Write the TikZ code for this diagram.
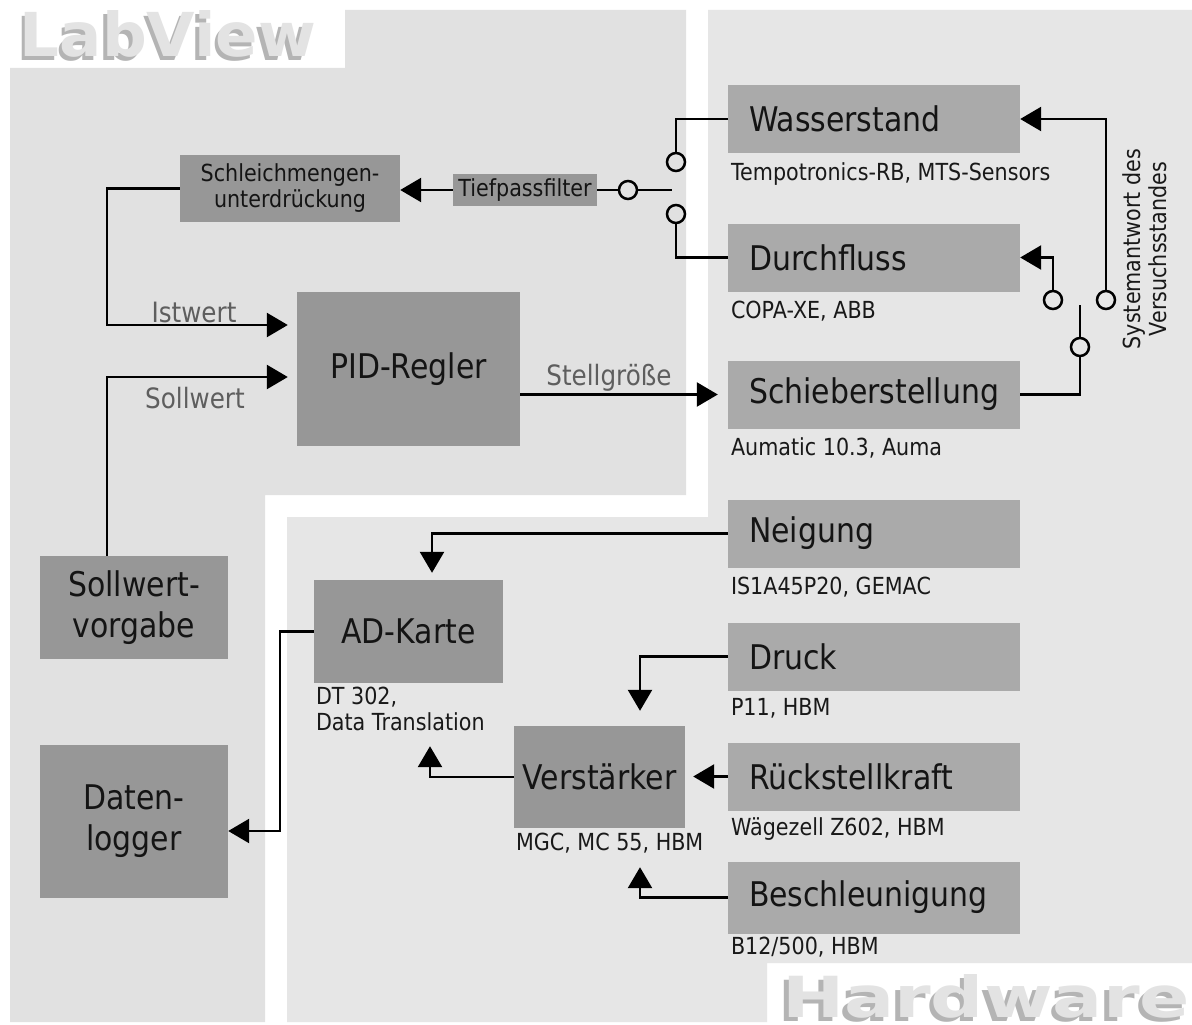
\documentclass[tikz,border=0pt]{standalone}
\usepackage{graphicx}
\usepackage{fontspec}
\setmainfont{DejaVu Sans}[FakeStretch=0.88]
\newfontfamily\titelfont{DejaVu Sans}
\usetikzlibrary{arrows.meta,positioning}

\definecolor{labview}{HTML}{E1E1E1}
\definecolor{hardware}{HTML}{E6E6E6}
\definecolor{blockdunkel}{HTML}{979797}
\definecolor{blockhell}{HTML}{AAAAAA}
\definecolor{beschriftung}{HTML}{5E5E5E}
\definecolor{titelhell}{HTML}{E3E3E3}
\definecolor{titelschatten}{HTML}{B4B4B4}

\newcommand\grossschrift{\fontsize{34}{41}\selectfont}
\newcommand\mittelschrift{\fontsize{28}{32}\selectfont}
\newcommand\kleinschrift{\fontsize{23.5}{26}\selectfont}
% Titel mit Schatten
\newcommand\titel[1]{\titelfont\bfseries\rlap{\kern-0.6pt\raisebox{-0.65pt}{\color{titelschatten}#1}}\color{titelhell}#1}

\begin{document}
\begin{tikzpicture}[x=1pt, y=1pt,
	linie/.style={line width=2.5pt},
	pfeil/.style={line width=2.5pt, -{Triangle[length=21pt, width=24pt]}},
	block/.style={fill=blockdunkel, inner sep=0pt, align=center, font=\grossschrift, text=black!92},
	sensor/.style={fill=blockhell, minimum height=68pt, text width=250pt, inner xsep=21pt, inner ysep=0pt, align=left, font=\grossschrift, text=black!92},
	klein/.style={fill=blockdunkel, inner sep=0pt, align=center, font=\kleinschrift, text=black!92},
	typ/.style={inner sep=2pt, align=left, font=\kleinschrift, text=black!90},
	signal/.style={font=\mittelschrift, text=beschriftung},
	kontakt/.style={circle, draw, line width=2.5pt, minimum size=18pt, inner sep=0pt}]
	\useasboundingbox (0,0) rectangle (1192,-1025);
	\fill[white] (0,0) rectangle (1192,-1025);

	% Bereiche
	\fill[labview] (10,-68) -- (345,-68) -- (345,-10) -- (686,-10) -- (686,-495) -- (265,-495) -- (265,-1022) -- (10,-1022) -- cycle;
	\fill[hardware] (287,-517) -- (708,-517) -- (708,-10) -- (1192,-10) -- (1192,-963) -- (767,-963) -- (767,-1022) -- (287,-1022) -- cycle;

	% Titel
	\node[inner sep=0pt] (labview) at (168,-36) {\resizebox{296pt}{46pt}{\titel{LabView}}};
	\node[inner sep=0pt] (hardware) at (986,-998.5) {\resizebox{408pt}{43pt}{\titel{Hardware}}};

	% LabView
	\node[klein, minimum width=220pt, minimum height=67pt] (schleich) at (290,-188.5) {Schleichmengen-\\unterdrückung};
	\node[klein, minimum width=144pt, minimum height=32pt] (tief) at (525,-190) {Tiefpassfilter};
	\node[block, minimum width=223pt, minimum height=154pt] (pid) at (408.5,-369) {PID-Regler};
	\node[block, minimum width=188pt, minimum height=103pt] (soll) at (134,-607.5) {Sollwert-\\vorgabe};
	\node[block, minimum width=188pt, minimum height=153pt] (logger) at (134,-821.5) {Daten-\\logger};

	\node[signal] (istwert) at (194,-312) {Istwert};
	\node[signal] (sollwert) at (195,-398) {Sollwert};
	\node[signal] (stell) at (609,-378) {Stellgröße};

	% Sensoren
	\node[sensor] (wasser) at (874,-119) {Wasserstand};
	\node[typ, below right=7pt and 1pt of wasser.south west] (wassertyp) {Tempotronics-RB, MTS-Sensors};
	\node[sensor] (durch) at (874,-257.5) {Durchfluss};
	\node[typ, below right=7pt and 1pt of durch.south west] (durchtyp) {COPA-XE, ABB};
	\node[sensor] (schieber) at (874,-394.5) {Schieberstellung};
	\node[typ, below right=7pt and 1pt of schieber.south west] (schiebertyp) {Aumatic 10.3, Auma};
	\node[sensor] (neigung) at (874,-533.5) {Neigung};
	\node[typ, below right=7pt and 1pt of neigung.south west] (neigungtyp) {IS1A45P20, GEMAC};
	\node[sensor] (druck) at (874,-656.5) {Druck};
	\node[typ, below right=5pt and 1pt of druck.south west] (drucktyp) {P11, HBM};
	\node[sensor] (rueck) at (874,-776.5) {Rückstellkraft};
	\node[typ, below right=5pt and 1pt of rueck.south west] (ruecktyp) {Wägezell Z602, HBM};
	\node[sensor, minimum height=72pt] (besch) at (874,-897.5) {Beschleunigung};
	\node[typ, below right=1pt and 1pt of besch.south west] (beschtyp) {B12/500, HBM};

	% Hardware
	\node[block, minimum width=189pt, minimum height=103pt] (ad) at (408.5,-631.5) {AD-Karte};
	\node[typ, below right=2pt and 0pt of ad.south west] (adtyp) {DT 302,\\Data Translation};
	\node[block, minimum width=171pt, minimum height=102pt] (verst) at (599.5,-777) {Verstärker};
	\node[typ, below right=3pt and 0pt of verst.south west] (versttyp) {MGC, MC 55, HBM};

	\node[rotate=90, align=center, font=\kleinschrift, text=black!90] (antwort) at (1145,-249) {Systemantwort des\\Versuchsstandes};

	% Verbindungen LabView
	\draw[pfeil] (tief.west) -- (tief.west -| schleich.east);
	\draw[pfeil, shorten >=9pt] (schleich.west) -- ++(-73,0) |- ([yshift=44pt]pid.west);
	\draw[pfeil, shorten >=9pt] ([xshift=-27pt]soll.north) |- ([yshift=-8pt]pid.west);
	\draw[pfeil, shorten >=10pt] (pid.east |- schieber.west) -- (schieber.west);

	% Schalter links
	\node[kontakt] (schalter1) at (628,-190) {};
	\node[kontakt] (kontakt1) at (676,-162) {};
	\node[kontakt] (kontakt2) at (676,-214) {};
	\coordinate (zunge1) at (672,-190);
	\draw[linie] (tief.east) -- (schalter1);
	\draw[linie] (schalter1) -- (zunge1);
	\draw[linie] (kontakt1) |- (wasser.west);
	\draw[linie] (kontakt2) |- (durch.west);

	% Schalter rechts
	\node[kontakt] (schalter2) at (1080,-347) {};
	\node[kontakt] (kontakt3) at (1106,-300) {};
	\node[kontakt] (kontakt4) at (1053,-300) {};
	\coordinate (zunge2) at (1080,-305);
	\draw[linie] (schieber.east) -| (schalter2);
	\draw[linie] (schalter2) -- (zunge2);
	\draw[pfeil] (kontakt3) |- (wasser.east);
	\draw[pfeil] (kontakt4) |- (durch.east);

	% Verbindungen Hardware
	\draw[pfeil, shorten >=7pt] (neigung.west) -| ([xshift=23.5pt]ad.north);
	\draw[pfeil, shorten >=15pt] (druck.west) -| ([xshift=40.5pt]verst.north);
	\draw[pfeil, shorten >=8pt] (rueck.west) -- (rueck.west -| verst.east);
	\draw[pfeil] (besch.west) -| ([xshift=40.5pt, yshift=-39pt]verst.south);
	\draw[pfeil] (verst.west) -| ([xshift=21.5pt, yshift=-63pt]ad.south);
	\draw[pfeil] (ad.west) -- ++(-34,0) |- ([yshift=-9.5pt]logger.east);
\end{tikzpicture}
\end{document}
